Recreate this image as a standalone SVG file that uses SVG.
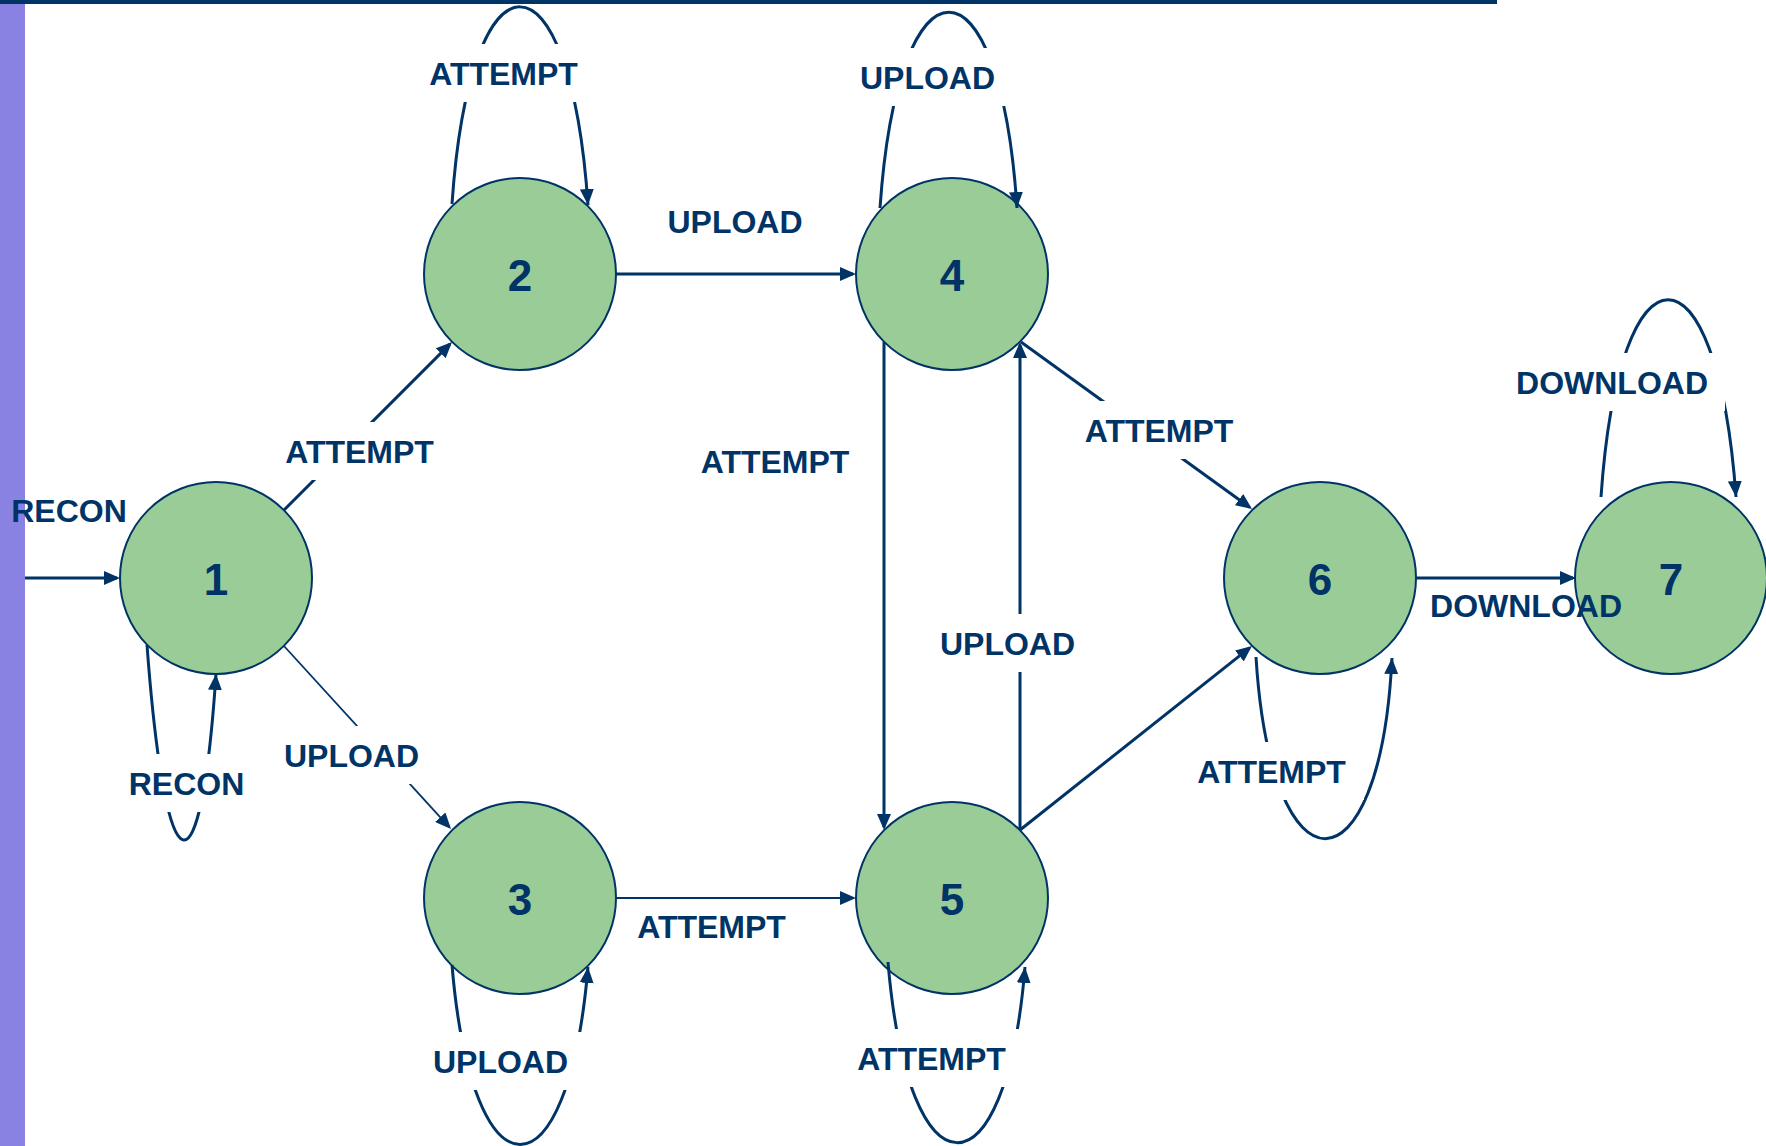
<svg xmlns="http://www.w3.org/2000/svg" width="1766" height="1146" viewBox="0 0 1766 1146">
  <defs>
    <marker id="arrow" markerWidth="16" markerHeight="14" refX="13" refY="7" orient="auto" markerUnits="userSpaceOnUse">
      <path d="M0,0 L16,7 L0,14 z" fill="#003366"/>
    </marker>
    <marker id="arrow-loop" markerWidth="16" markerHeight="14" refX="16" refY="7" orient="auto" markerUnits="userSpaceOnUse">
      <path d="M0,0 L16,7 L0,14 z" fill="#003366"/>
    </marker>
    <style>
      .state { fill: #9acc98; stroke: #003366; stroke-width: 2; }
      .state-num { font-family: "Liberation Sans", Arial, sans-serif; font-weight: bold; font-size: 44px; fill: #003366; text-anchor: middle; }
      .edge { fill: none; stroke: #003366; stroke-width: 3; marker-end: url(#arrow); }
      .edge.thin { stroke-width: 1.8; }
      .loop { fill: none; stroke: #003366; stroke-width: 3; marker-end: url(#arrow-loop); }
      .lbl { font-family: "Liberation Sans", Arial, sans-serif; font-weight: bold; font-size: 32px; fill: #003366; text-anchor: middle; }
      .lbl-bg { fill: #ffffff; }
    </style>
  </defs>

  <rect x="0" y="0" width="1766" height="1146" fill="#ffffff"/>
  <!-- slide frame: side bar and top rule -->
  <rect x="0" y="0" width="25" height="1146" fill="#8a82e2"/>
  <rect x="0" y="0" width="1497" height="4" fill="#003366"/>

  <!-- states -->
  <g id="node-1"><circle class="state" cx="216" cy="578" r="96"/><text class="state-num" x="216" y="595">1</text></g>
  <g id="node-2"><circle class="state" cx="520" cy="274" r="96"/><text class="state-num" x="520" y="291">2</text></g>
  <g id="node-3"><circle class="state" cx="520" cy="898" r="96"/><text class="state-num" x="520" y="915">3</text></g>
  <g id="node-4"><circle class="state" cx="952" cy="274" r="96"/><text class="state-num" x="952" y="291">4</text></g>
  <g id="node-5"><circle class="state" cx="952" cy="898" r="96"/><text class="state-num" x="952" y="915">5</text></g>
  <g id="node-6"><circle class="state" cx="1320" cy="578" r="96"/><text class="state-num" x="1320" y="595">6</text></g>
  <g id="node-7"><circle class="state" cx="1671" cy="578" r="96"/><text class="state-num" x="1671" y="595">7</text></g>

  <!-- transitions -->
  <g id="connectors">
    <line class="edge" x1="25" y1="578" x2="117" y2="578"/>
    <line class="edge" x1="284" y1="510" x2="449.9" y2="344.1"/>
    <line class="edge thin" x1="284" y1="646" x2="449" y2="826.8"/>
    <line class="edge" x1="616" y1="274" x2="853" y2="274"/>
    <line class="edge thin" x1="616" y1="898" x2="853" y2="898"/>
    <line class="edge" x1="884" y1="342" x2="884" y2="827"/>
    <line class="edge" x1="1020" y1="830" x2="1020" y2="345"/>
    <line class="edge" x1="1021" y1="342" x2="1249.6" y2="507.2"/>
    <line class="edge" x1="1020" y1="830" x2="1249.6" y2="647.9"/>
    <line class="edge" x1="1416" y1="578" x2="1573" y2="578"/>

    <!-- self loops -->
    <path class="loop" d="M147,645 C166,900 201,900 216,674"/>
    <path class="loop" d="M452,204 C470,-59 570,-59 588,205"/>
    <path class="loop" d="M452,965 C472,1204 568,1204 588,967"/>
    <path class="loop" d="M880,208 C898,-53 1000,-53 1017,208"/>
    <path class="loop" d="M888,962 C908,1202 1006,1202 1025,967"/>
    <path class="loop" d="M1256,657 C1271,899 1380,899 1392,658"/>
    <path class="loop" d="M1601,497 C1619,234 1717,234 1736,497"/>
  </g>

  <!-- transition labels -->
  <g id="labels">
    <text class="lbl" x="69" y="522">RECON</text>

    <rect class="lbl-bg" x="267" y="422" width="185" height="58"/>
    <text class="lbl" x="359.5" y="463">ATTEMPT</text>

    <rect class="lbl-bg" x="268" y="726" width="167" height="58"/>
    <text class="lbl" x="351.5" y="767">UPLOAD</text>

    <rect class="lbl-bg" x="112" y="754" width="149" height="58"/>
    <text class="lbl" x="186.5" y="795">RECON</text>

    <rect class="lbl-bg" x="411" y="44" width="185" height="58"/>
    <text class="lbl" x="503.5" y="85">ATTEMPT</text>

    <text class="lbl" x="735" y="233">UPLOAD</text>

    <rect class="lbl-bg" x="843" y="48" width="169" height="58"/>
    <text class="lbl" x="927.5" y="89">UPLOAD</text>

    <text class="lbl" x="775" y="473">ATTEMPT</text>

    <rect class="lbl-bg" x="1067" y="401" width="184" height="58"/>
    <text class="lbl" x="1159" y="442">ATTEMPT</text>

    <rect class="lbl-bg" x="923" y="614" width="169" height="58"/>
    <text class="lbl" x="1007.5" y="655">UPLOAD</text>

    <text class="lbl" x="711.5" y="938">ATTEMPT</text>

    <rect class="lbl-bg" x="416" y="1032" width="169" height="58"/>
    <text class="lbl" x="500.5" y="1073">UPLOAD</text>

    <rect class="lbl-bg" x="839" y="1029" width="185" height="58"/>
    <text class="lbl" x="931.5" y="1070">ATTEMPT</text>

    <rect class="lbl-bg" x="1179" y="742" width="185" height="58"/>
    <text class="lbl" x="1271.5" y="783">ATTEMPT</text>

    <rect class="lbl-bg" x="1499" y="353" width="226" height="58"/>
    <text class="lbl" x="1612" y="394">DOWNLOAD</text>

    <text class="lbl" x="1526" y="617">DOWNLOAD</text>
  </g>
</svg>
